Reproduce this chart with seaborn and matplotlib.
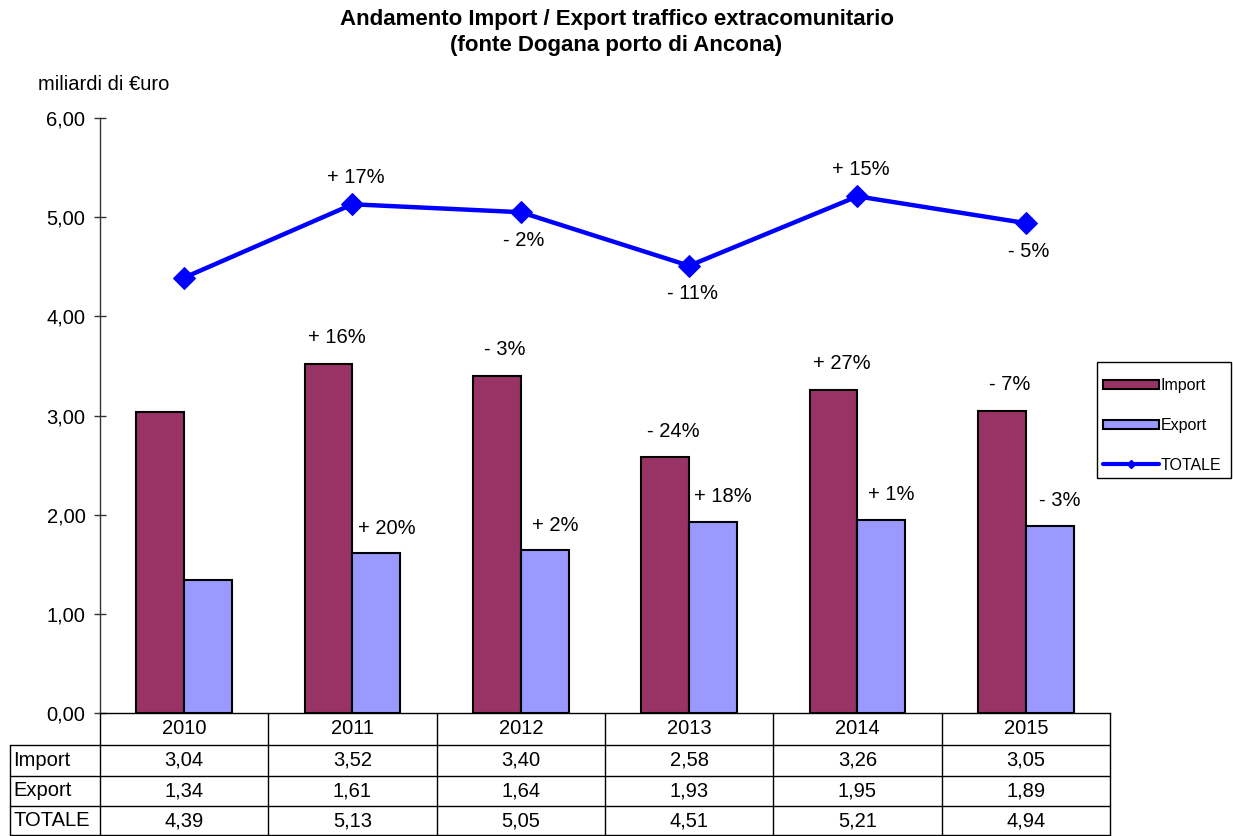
import numpy as np
import pandas as pd
import seaborn as sns
import matplotlib.pyplot as plt
from matplotlib.lines import Line2D
from matplotlib.patches import Patch, Rectangle
from matplotlib.transforms import blended_transform_factory

# dati
anni = ["2010", "2011", "2012", "2013", "2014", "2015"]
imp = [3.04, 3.52, 3.40, 2.58, 3.26, 3.05]
exp = [1.34, 1.61, 1.64, 1.93, 1.95, 1.89]
tot = [4.39, 5.13, 5.05, 4.51, 5.21, 4.94]
var_imp = ["", "+ 16%", "- 3%", "- 24%", "+ 27%", "- 7%"]
var_exp = ["", "+ 20%", "+ 2%", "+ 18%", "+ 1%", "- 3%"]
var_tot = ["", "+ 17%", "- 2%", "- 11%", "+ 15%", "- 5%"]

col_imp = "#993366"
col_exp = "#9999FF"
col_tot = "#0000FF"

sns.set_style("white")
plt.rcParams['font.family'] = ['Liberation Sans', 'DejaVu Sans']
plt.rcParams['text.color'] = 'black'
plt.rcParams['ytick.color'] = 'black'
plt.rcParams['xtick.color'] = 'black'

fs = 14.5

df = pd.DataFrame({
    "anno": anni * 2,
    "serie": ["Import"] * 6 + ["Export"] * 6,
    "valore": imp + exp,
})

W, H = 1233, 836
fig = plt.figure(figsize=(W / 100, H / 100), dpi=100)
ax = fig.add_axes([100 / W, 1 - 713 / H, 1010 / W, 595 / H])

sns.barplot(data=df, x="anno", y="valore", hue="serie", palette=[col_imp, col_exp],
            saturation=1, width=0.57, edgecolor="black", linewidth=1.5, legend=False, ax=ax)
sns.lineplot(x=np.arange(6), y=tot, color=col_tot, linewidth=3.2, marker="D",
             markersize=11, markeredgecolor=col_tot, ax=ax)

ax.set_xlim(-0.5, 5.5)
ax.set_ylim(0, 6)
ax.set_yticks(np.arange(0, 7, 1))
ax.set_yticklabels([f"{v:.2f}".replace(".", ",") for v in np.arange(0, 7, 1)], fontsize=fs)
ax.set_xticks([])
ax.set_xlabel("")
ax.set_ylabel("")
ax.tick_params(axis="y", direction="inout", length=9, width=1, color="#333333", pad=6, left=True)
for s in ["top", "right"]:
    ax.spines[s].set_visible(False)
for s in ["left", "bottom"]:
    ax.spines[s].set_color("black")
    ax.spines[s].set_linewidth(1)
ax.spines["left"].set_color("#333333")

# etichette variazioni
bw = 0.285
for i in range(6):
    if var_imp[i]:
        ax.annotate(var_imp[i], (i - bw / 2, imp[i]), xytext=(8, 26), textcoords="offset pixels",
                    ha="center", va="center", fontsize=fs)
    if var_exp[i]:
        ax.annotate(var_exp[i], (i + bw / 2, exp[i]), xytext=(10, 25), textcoords="offset pixels",
                    ha="center", va="center", fontsize=fs)
    if var_tot[i]:
        dy = 27 if var_tot[i].startswith("+") else -28
        ax.annotate(var_tot[i], (i, tot[i]), xytext=(3, dy), textcoords="offset pixels",
                    ha="center", va="center", fontsize=fs)

# tabella dati
tr = blended_transform_factory(ax.transData, fig.transFigure)
def fy(p):
    return 1 - p / H

righe = [("Import", imp), ("Export", exp), ("TOTALE", tot)]
ys = [760, 791, 821]
for i, a in enumerate(anni):
    ax.text(i, fy(729), a, transform=tr, ha="center", va="center", fontsize=fs, clip_on=False)
    for (nome, vals), y in zip(righe, ys):
        ax.text(i, fy(y), f"{vals[i]:.2f}".replace(".", ","), transform=tr,
                ha="center", va="center", fontsize=fs, clip_on=False)
for (nome, vals), y in zip(righe, ys):
    fig.text(13 / W, fy(y), nome, ha="left", va="center", fontsize=fs)

lk = dict(color="black", linewidth=1)
for b in np.arange(-0.5, 6, 1):
    fig.add_artist(Line2D([100 / W + (b + 0.5) * 1010 / 6 / W] * 2, [fy(713), fy(836)], **lk))
fig.add_artist(Line2D([10 / W, 10 / W], [fy(745), fy(836)], **lk))
for y in [745, 776, 806, 835]:
    fig.add_artist(Line2D([10 / W, 1110 / W], [fy(y), fy(y)], **lk))

# legenda
handles = [
    Patch(facecolor=col_imp, edgecolor="black", linewidth=1.5),
    Patch(facecolor=col_exp, edgecolor="black", linewidth=1.5),
    Line2D([], [], color=col_tot, linewidth=3, marker="D", markersize=4),
]
leg = fig.legend(handles, ["Import", "Export", "TOTALE"], loc="upper left",
                 bbox_to_anchor=(1103 / W, fy(378)), bbox_transform=fig.transFigure,
                 fontsize=11.5, frameon=False,
                 handlelength=3.5, handleheight=0.5, handletextpad=0.1, labelspacing=1.55,
                 borderpad=0, borderaxespad=0)
fig.add_artist(Rectangle((1097 / W, fy(478)), 134 / W, 116 / H, transform=fig.transFigure,
                         facecolor="none", edgecolor="black", linewidth=1))

# titoli
fig.text(0.5, fy(20), "Andamento Import / Export traffico extracomunitario",
         ha="center", va="center", fontsize=16, fontweight="bold")
fig.text(0.5, fy(46), "(fonte Dogana porto di Ancona)",
         ha="center", va="center", fontsize=16, fontweight="bold")
fig.text(38 / W, fy(84), "miliardi di €uro", ha="left", va="center", fontsize=fs)

fig.savefig("out.png", dpi=100)
